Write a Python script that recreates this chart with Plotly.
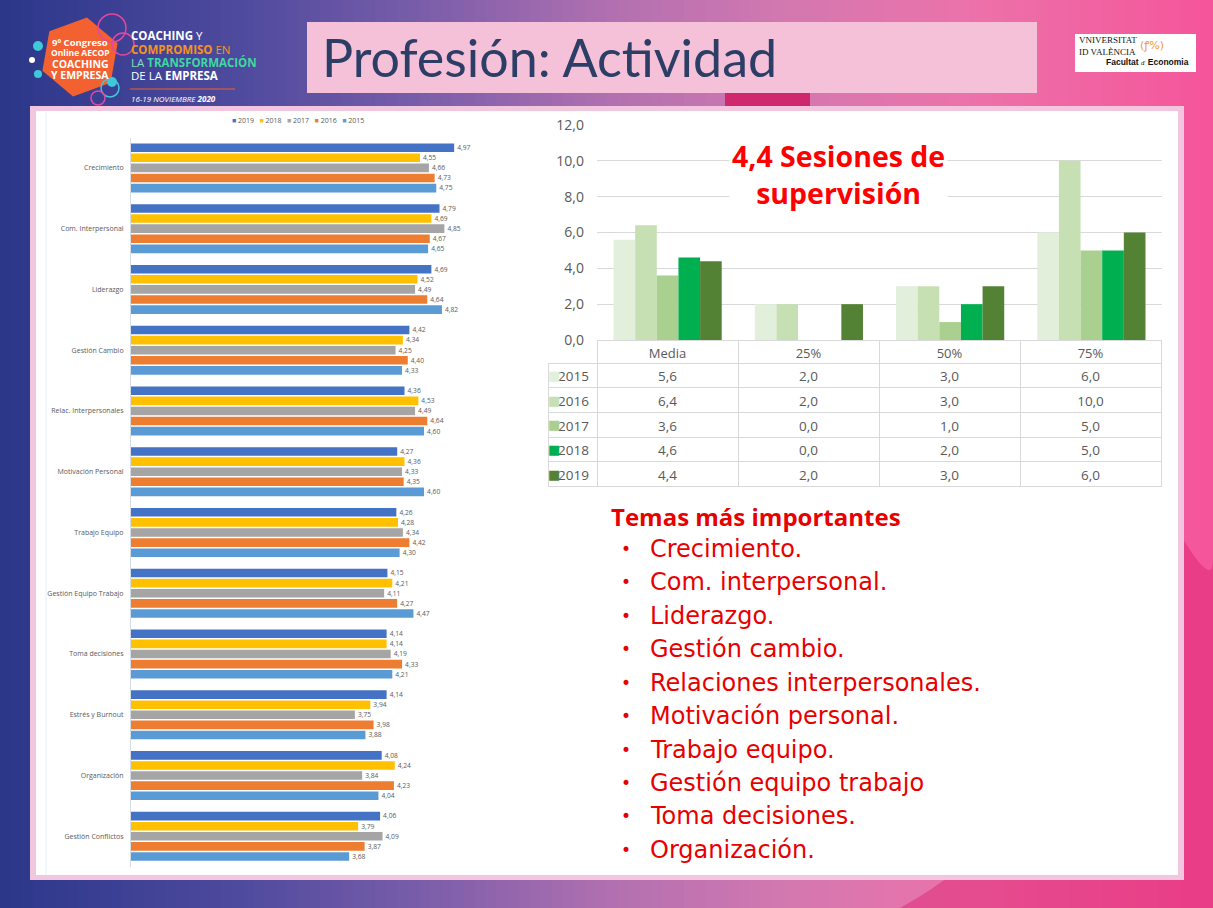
import math
import plotly.graph_objects as go

W, H = 1213, 908
def X(px): return px / W
def Y(py): return 1 - py / H

# ---------------- DATA ----------------
temas_cat = ["Crecimiento", "Com. Interpersonal", "Liderazgo", "Gestión Cambio",
             "Relac. Interpersonales", "Motivación Personal", "Trabajo Equipo",
             "Gestión Equipo Trabajo", "Toma decisiones", "Estrés y Burnout",
             "Organización", "Gestión Conflictos"]
years_left = ["2019", "2018", "2017", "2016", "2015"]
v2019 = [4.97, 4.79, 4.69, 4.42, 4.36, 4.27, 4.26, 4.15, 4.14, 4.14, 4.08, 4.06]
v2018 = [4.55, 4.69, 4.52, 4.34, 4.53, 4.36, 4.28, 4.21, 4.14, 3.94, 4.24, 3.79]
v2017 = [4.66, 4.85, 4.49, 4.25, 4.49, 4.33, 4.34, 4.11, 4.19, 3.75, 3.84, 4.09]
v2016 = [4.73, 4.67, 4.64, 4.40, 4.64, 4.35, 4.42, 4.27, 4.33, 3.98, 4.23, 3.87]
v2015 = [4.75, 4.65, 4.82, 4.33, 4.60, 4.60, 4.30, 4.47, 4.21, 3.88, 4.04, 3.68]
left_colors = ["#4472c4", "#ffc000", "#a5a5a5", "#ed7d31", "#5b9bd5"]

ses_cat = ["Media", "25%", "50%", "75%"]
ses_years = ["2015", "2016", "2017", "2018", "2019"]
s2015 = [5.6, 2.0, 3.0, 6.0]
s2016 = [6.4, 2.0, 3.0, 10.0]
s2017 = [3.6, 0.0, 1.0, 5.0]
s2018 = [4.6, 0.0, 2.0, 5.0]
s2019 = [4.4, 2.0, 3.0, 6.0]
ses_colors = ["#e2efda", "#c6e0b4", "#a9d08e", "#00b050", "#548235"]

temas_importantes = ["Crecimiento.", "Com. interpersonal.", "Liderazgo.", "Gestión cambio.",
                     "Relaciones interpersonales.", "Motivación personal.", "Trabajo equipo.",
                     "Gestión equipo trabajo", "Toma decisiones.", "Organización."]

GRAY = "#595959"
fig = go.Figure()

# ---------------- LEFT CHART ----------------
left_vals = [v2019, v2018, v2017, v2016, v2015]
slot = 10.1 / 60.76
bw = 8.6 / 60.76
for i, (yr, vals, col) in enumerate(zip(years_left, left_vals, left_colors)):
    fig.add_trace(go.Bar(
        x=vals, y=temas_cat, orientation="h", name=yr,
        marker=dict(color=col, line=dict(width=0)),
        width=bw, offset=(i - 2) * slot - bw / 2,
        texttemplate="%{x:.2f}", textposition="outside",
        textfont=dict(size=7, color=GRAY, family="Open Sans"),
        cliponaxis=False, showlegend=False,
        xaxis="x", yaxis="y"))

# ---------------- RIGHT CHART ----------------
series = [s2015, s2016, s2017, s2018, s2019]
for yr, vals, col in zip(ses_years, series, ses_colors):
    fig.add_trace(go.Bar(
        x=ses_cat, y=vals, name=yr, marker=dict(color=col, line=dict(width=0)),
        showlegend=False, xaxis="x2", yaxis="y2"))

def fmt(v): return f"{v:.1f}".replace(".", ",")
cols = [ses_years]
for j in range(len(ses_cat)):
    cols.append([fmt(s[j]) for s in series])
TABLE_TOP = 340
HEAD_H = 23
ROW_H = 24.7
fig.add_trace(go.Table(
    domain=dict(x=[X(548), X(1162)], y=[Y(500), Y(TABLE_TOP)]),
    columnwidth=[49, 141, 141, 141, 141],
    header=dict(values=[""] + ses_cat, height=HEAD_H,
                fill=dict(color="rgba(0,0,0,0)"),
                line=dict(color=["rgba(0,0,0,0)"] + ["#d9d9d9"] * 4, width=1),
                font=dict(family="Open Sans", size=13, color=GRAY),
                align=["right", "center", "center", "center", "center"]),
    cells=dict(values=cols, height=ROW_H,
               fill=dict(color="rgba(0,0,0,0)"),
               line=dict(color="#d9d9d9", width=1),
               font=dict(family="Open Sans", size=13.5, color=GRAY),
               align=["right", "center", "center", "center", "center"])))

# ---------------- BACKGROUND SHAPES ----------------
shapes = []
stops = [(0.0, (43, 55, 138)), (0.2, (79, 74, 158)), (0.35, (122, 94, 170)),
         (0.5, (176, 112, 176)), (0.65, (212, 120, 176)), (0.8, (236, 114, 170)),
         (1.0, (245, 85, 154))]
def interp(t):
    for (t0, c0), (t1, c1) in zip(stops[:-1], stops[1:]):
        if t0 <= t <= t1:
            f = (t - t0) / (t1 - t0)
            return "rgb(%d,%d,%d)" % tuple(round(a + (b - a) * f) for a, b in zip(c0, c1))
    return "rgb(%d,%d,%d)" % stops[-1][1]
N = 110
for k in range(N):
    x0 = k / N
    shapes.append(dict(type="rect", xref="paper", yref="paper", x0=x0, x1=x0 + 1.0 / N + 0.002,
                       y0=-0.02, y1=1.02, fillcolor=interp(x0 + 0.5 / N), line=dict(width=0), layer="below"))
shapes.append(dict(type="path", xref="paper", yref="paper",
                   path=f"M {X(1150)},{Y(480)} Q {X(1213)},{Y(600)} {X(1213)},{Y(560)} L {X(1213)},0 L {X(900)},0 Q {X(1100)},{Y(800)} {X(1150)},{Y(480)} Z",
                   fillcolor="rgba(220,30,110,0.45)", line=dict(width=0), layer="below"))
shapes.append(dict(type="rect", xref="paper", yref="paper", x0=X(725), x1=X(810), y0=Y(108), y1=Y(90),
                   fillcolor="#d0286c", line=dict(width=0), layer="below"))
shapes.append(dict(type="rect", xref="paper", yref="paper", x0=X(307), x1=X(1037), y0=Y(93), y1=Y(22),
                   fillcolor="#f5c1d9", line=dict(width=0), layer="below"))
shapes.append(dict(type="rect", xref="paper", yref="paper", x0=X(30), x1=X(1184), y0=Y(880), y1=Y(106),
                   fillcolor="#f3c6df", line=dict(width=0), layer="below"))
shapes.append(dict(type="rect", xref="paper", yref="paper", x0=X(36), x1=X(1178), y0=Y(875), y1=Y(111),
                   fillcolor="#ffffff", line=dict(width=0), layer="below"))
shapes.append(dict(type="line", xref="paper", yref="paper", x0=X(46), x1=X(46), y0=Y(874), y1=Y(112),
                   line=dict(color="#e8eef6", width=1), layer="below"))
cx, cy, r = 80, 57, 40
pts = []
for a in range(6):
    ang = math.radians(60 * a - 90 + 10)
    pts.append((X(cx + r * math.cos(ang)), Y(cy + r * math.sin(ang))))
path = "M " + " L ".join(f"{px},{py}" for px, py in pts) + " Z"
shapes.append(dict(type="path", xref="paper", yref="paper", path=path,
                   fillcolor="#f2612f", line=dict(width=0), layer="below"))
for (ccx, ccy, rr, col) in [(112, 28, 14, "#e4479f"), (123, 44, 11, "#e4479f"), (110, 88, 9, "#3fc8d8"),
                            (98, 98, 7, "#e4479f")]:
    shapes.append(dict(type="circle", xref="paper", yref="paper", x0=X(ccx - rr), x1=X(ccx + rr),
                       y0=Y(ccy + rr), y1=Y(ccy - rr), line=dict(color=col, width=1.5),
                       fillcolor="rgba(0,0,0,0)", layer="below"))
for (ccx, ccy, rr, col) in [(38, 46, 5, "#3fc8d8"), (32, 60, 3, "#ffffff"), (38, 74, 4, "#3fc8d8"),
                            (112, 82, 5, "#3fc8d8")]:
    shapes.append(dict(type="circle", xref="paper", yref="paper", x0=X(ccx - rr), x1=X(ccx + rr),
                       y0=Y(ccy + rr), y1=Y(ccy - rr), line=dict(width=0), fillcolor=col, layer="below"))
shapes.append(dict(type="line", xref="paper", yref="paper", x0=X(130), x1=X(235), y0=Y(89), y1=Y(89),
                   line=dict(color="#f2612f", width=1), layer="below"))
shapes.append(dict(type="rect", xref="paper", yref="paper", x0=X(1075), x1=X(1196), y0=Y(72), y1=Y(34),
                   fillcolor="#ffffff", line=dict(width=0), layer="below"))

# ---------------- ANNOTATIONS ----------------
ann = []
ann.append(dict(text="Profesión: Actividad", x=X(320), y=Y(57), xref="paper", yref="paper",
                xanchor="left", yanchor="middle", showarrow=False,
                font=dict(family="Lato", size=52, color="#2c3d66")))
leg = "   ".join(f"<span style='color:{c}'>■</span> {y}" for y, c in zip(years_left, left_colors))
ann.append(dict(text=leg, x=X(298), y=Y(120), xref="paper", yref="paper", xanchor="center",
                yanchor="middle", showarrow=False, font=dict(family="Open Sans", size=7, color=GRAY)))
for k, c in enumerate(ses_colors):
    ann.append(dict(text="■", x=X(554), y=Y(TABLE_TOP + HEAD_H + ROW_H * (k + 0.5)), xref="paper",
                    yref="paper", xanchor="center", yanchor="middle", showarrow=False,
                    font=dict(family="DejaVu Sans", size=13, color=c)))
ann.append(dict(text="<b>4,4 Sesiones de<br>supervisión</b>", x=X(838), y=Y(174), xref="paper", yref="paper",
                xanchor="center", yanchor="middle", showarrow=False, bgcolor="#ffffff", borderpad=2,
                font=dict(family="Open Sans", size=28.5, color="#ff0000")))
ann.append(dict(text="<b>Temas más importantes</b>", x=X(609), y=Y(516), xref="paper", yref="paper",
                xanchor="left", yanchor="middle", showarrow=False,
                font=dict(family="Open Sans", size=24, color="#e80000")))
line_y = [549, 582, 616, 649, 683, 716, 750, 783, 816, 850]
for t, ly in zip(temas_importantes, line_y):
    ann.append(dict(text="•", x=X(626), y=Y(ly), xref="paper", yref="paper", xanchor="center",
                    yanchor="middle", showarrow=False, font=dict(family="DejaVu Sans", size=17, color="#e80000")))
    ann.append(dict(text=t, x=X(648), y=Y(ly), xref="paper", yref="paper", xanchor="left",
                    yanchor="middle", showarrow=False, font=dict(family="DejaVu Sans", size=24, color="#e80000")))
for txt, ly, sz in [("<b>9º Congreso</b>", 42, 9.5), ("<b>Online AECOP</b>", 52.5, 8.5),
                    ("<b>COACHING</b>", 63.5, 10.5), ("<b>Y EMPRESA</b>", 74.5, 10.5)]:
    ann.append(dict(text=txt, x=X(80), y=Y(ly), xref="paper", yref="paper", xanchor="center",
                    yanchor="middle", showarrow=False, font=dict(family="Open Sans", size=sz, color="#ffffff")))
for txt, ly in [("<b>COACHING</b> <span style='color:#ffffff'>Y</span>", 35.5),
                ("<span style='color:#f7931e'><b>COMPROMISO</b> EN</span>", 49),
                ("<span style='color:#7fe0c0'>LA </span><span style='color:#3fd8a0'><b>TRANSFORMACIÓN</b></span>", 62.5),
                ("DE LA <b>EMPRESA</b>", 76)]:
    ann.append(dict(text=txt, x=X(129), y=Y(ly), xref="paper", yref="paper", xanchor="left",
                    yanchor="middle", showarrow=False, font=dict(family="Open Sans", size=11.5, color="#ffffff")))
ann.append(dict(text="<i>16-19 NOVIEMBRE <b>2020</b></i>", x=X(129), y=Y(98), xref="paper", yref="paper",
                xanchor="left", yanchor="middle", showarrow=False,
                font=dict(family="Open Sans", size=8, color="#ffffff")))
ann.append(dict(text="VNIVERSITAT<br>ID VALÈNCIA", x=X(1077), y=Y(46), xref="paper", yref="paper",
                xanchor="left", yanchor="middle", showarrow=False, align="left",
                font=dict(family="Liberation Serif", size=9, color="#111111")))
ann.append(dict(text="(ꝭ%)", x=X(1152), y=Y(46), xref="paper", yref="paper", xanchor="center",
                yanchor="middle", showarrow=False, font=dict(family="DejaVu Sans", size=11, color="#f29a2e")))
ann.append(dict(text="<b>Facultat</b> <span style='font-size:6px'>d'</span> <b>Economia</b>", x=X(1104), y=Y(62),
                xref="paper", yref="paper", xanchor="left", yanchor="middle", showarrow=False,
                font=dict(family="Liberation Sans", size=8.5, color="#111111")))

fig.update_layout(
    width=W, height=H, autosize=False, margin=dict(l=0, r=0, t=0, b=0, pad=0, autoexpand=False),
    paper_bgcolor="#2b378a", plot_bgcolor="rgba(0,0,0,0)",
    separators=",.", barmode="group", bargap=0.234, bargroupgap=0,
    shapes=shapes, annotations=ann, showlegend=False,
    xaxis=dict(domain=[X(131), X(538)], range=[1, 6], visible=False, fixedrange=True, automargin=False),
    yaxis=dict(domain=[Y(866.7), Y(137.5)], autorange="reversed", type="category", automargin=False,
               showline=True, linecolor="#d6dce5", linewidth=1, ticks="", showgrid=False,
               tickfont=dict(family="Open Sans", size=7, color=GRAY), ticklabelstandoff=5),
    xaxis2=dict(domain=[X(597), X(1162)], range=[-0.5, 3.5], type="category", showticklabels=False,
                showgrid=False, zeroline=False, showline=False, anchor="y2", automargin=False),
    yaxis2=dict(domain=[Y(340), Y(125)], range=[0, 12], dtick=2, tickformat=".1f", anchor="x2",
                gridcolor="#d9d9d9", showline=False, zeroline=False, ticks="", automargin=False,
                tickfont=dict(family="Open Sans", size=14, color=GRAY), ticklabelstandoff=12),
)

fig.write_html("out.html", config={"displayModeBar": False},
               post_script="document.body.style.margin='0';document.body.style.overflow='hidden';")
